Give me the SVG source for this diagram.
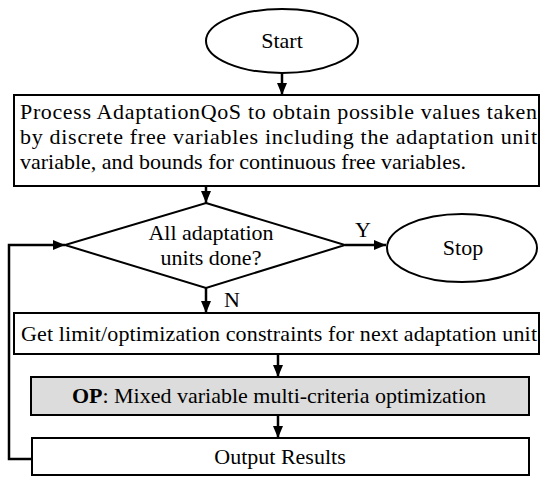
<svg xmlns="http://www.w3.org/2000/svg" width="541" height="481" viewBox="0 0 541 481">
<style>
  text { font-family: "Liberation Serif", "Times New Roman", serif; font-size: 22px; fill: #000; }
  .box { fill: #fff; stroke: #000; stroke-width: 2; }
  .gray { fill: #dcdcdc; stroke: #000; stroke-width: 2; }
  .conn { fill: none; stroke: #000; stroke-width: 2.5; }
  .c { text-anchor: middle; }
</style>
<defs>
  <marker id="ah" markerUnits="userSpaceOnUse" markerWidth="12" markerHeight="12" viewBox="0 0 12 12" refX="12" refY="6" orient="auto">
    <path d="M0,1 L12,6 L0,11 Z" fill="#000"/>
  </marker>
</defs>
<g id="connectors">
  <line class="conn" x1="282" y1="73" x2="282" y2="95" marker-end="url(#ah)"/>
  <line class="conn" x1="206" y1="186" x2="206" y2="203" marker-end="url(#ah)"/>
  <line class="conn" x1="345" y1="245" x2="386" y2="245" marker-end="url(#ah)"/>
  <line class="conn" x1="206" y1="288" x2="206" y2="313" marker-end="url(#ah)"/>
  <line class="conn" x1="278" y1="354" x2="278" y2="377" marker-end="url(#ah)"/>
  <line class="conn" x1="278" y1="415" x2="278" y2="438" marker-end="url(#ah)"/>
  <polyline class="conn" points="32,459 9,459 9,245 65,245" stroke-width="2" marker-end="url(#ah)"/>
  <text x="363" y="237" class="c">Y</text>
  <text x="232" y="307" class="c">N</text>
</g>
<g id="start">
  <ellipse class="box" cx="282" cy="41" rx="76" ry="32"/>
  <text x="282" y="48" class="c">Start</text>
</g>
<g id="process">
  <rect class="box" x="14" y="95" width="525" height="91"/>
  <text x="20" y="119" textLength="517" lengthAdjust="spacing">Process AdaptationQoS to obtain possible values taken</text>
  <text x="20" y="144" textLength="517" lengthAdjust="spacing">by discrete free variables including the adaptation unit</text>
  <text x="20" y="169">variable, and bounds for continuous free variables.</text>
</g>
<g id="decision">
  <polygon class="box" points="206,203 345,245 206,288 65,245"/>
  <text x="211" y="240" class="c">All adaptation</text>
  <text x="211" y="265" class="c">units done?</text>
</g>
<g id="stop">
  <ellipse class="box" cx="462" cy="248" rx="75" ry="34"/>
  <text x="463" y="255" class="c">Stop</text>
</g>
<g id="constraints">
  <rect class="box" x="14" y="313" width="525" height="41"/>
  <text x="21" y="341" textLength="516" lengthAdjust="spacing">Get limit/optimization constraints for next adaptation unit</text>
</g>
<g id="op">
  <rect class="gray" x="31" y="377" width="498" height="38"/>
  <text x="279" y="403" class="c"><tspan font-weight="bold">OP</tspan>: Mixed variable multi-criteria optimization</text>
</g>
<g id="output">
  <rect class="box" x="32" y="438" width="497" height="37"/>
  <text x="280" y="464" class="c">Output Results</text>
</g>
</svg>
